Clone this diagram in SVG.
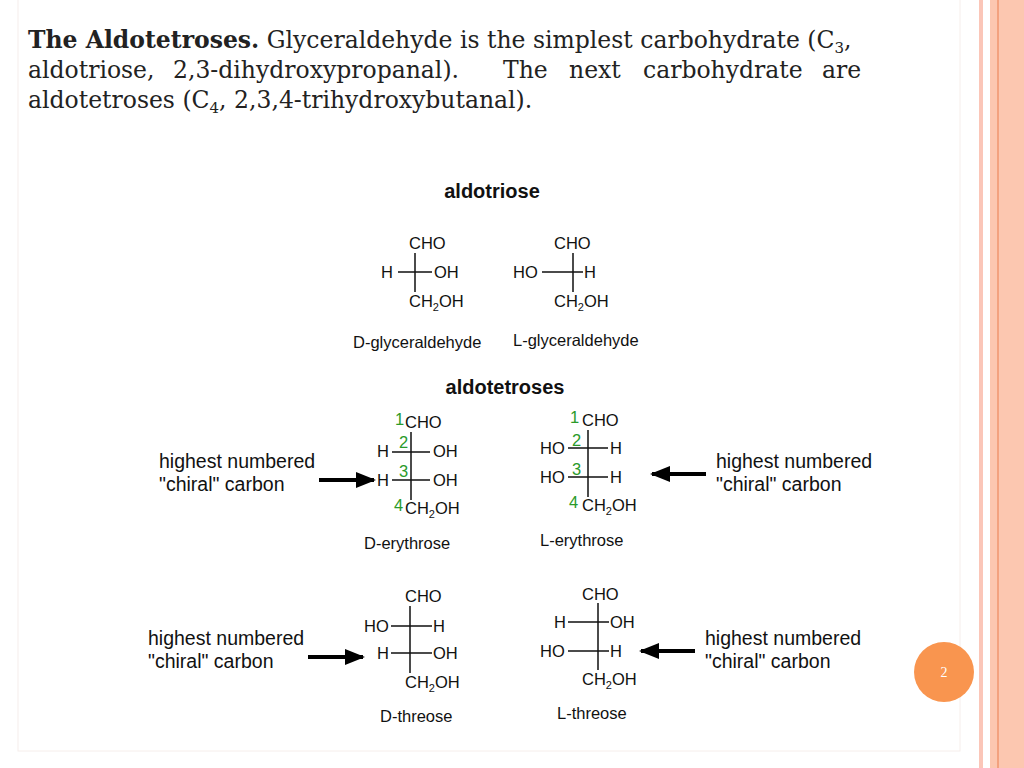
<svg xmlns="http://www.w3.org/2000/svg" width="1024" height="768" viewBox="0 0 1024 768">
<style>
.t{font-family:"DejaVu Serif",serif;font-size:23.5px;fill:#222}
.s{font-family:"Liberation Sans",Arial,sans-serif;font-size:16.5px;fill:#111}
.h{font-family:"Liberation Sans",Arial,sans-serif;font-size:20px;font-weight:bold;fill:#111}
.l{font-family:"Liberation Sans",Arial,sans-serif;font-size:19.5px;fill:#111}
.n{font-family:"Liberation Sans",Arial,sans-serif;font-size:16.5px;fill:#2a9a2a}
.b{stroke:#111;stroke-width:1.5;fill:none}
.a{stroke:#000;stroke-width:4}
</style>
<defs><marker id="ar" viewBox="0 0 10 10" refX="9" refY="5" markerWidth="5" markerHeight="5" orient="auto"><path d="M0,1L10,5L0,9z" fill="#000"/></marker></defs>
<rect width="1024" height="768" fill="#fff"/>
<rect x="18" y="-2" width="942" height="753" fill="none" stroke="#f6eeeb" stroke-width="1"/>
<rect x="979" y="0" width="4" height="768" fill="#fbc6b8"/>
<rect x="990" y="0" width="34" height="768" fill="#fcc7b0"/>
<rect x="997" y="0" width="2" height="768" fill="#f3a27f"/>
<circle cx="944" cy="672" r="30" fill="#f9954f"/>
<text x="944" y="677" text-anchor="middle" font-family="Liberation Serif,serif" font-size="14" fill="#fff">2</text>
<g id="intro">
<text class="t" x="28" y="48"><tspan font-weight="bold">The Aldotetroses.</tspan> Glyceraldehyde is the simplest carbohydrate (C<tspan font-size="15" dy="5">3</tspan><tspan dy="-5">,</tspan></text>
<text class="t" y="78"><tspan x="28">aldotriose,</tspan><tspan x="173">2,3-dihydroxypropanal).</tspan><tspan x="503">The</tspan><tspan x="569">next</tspan><tspan x="643">carbohydrate</tspan><tspan x="822">are</tspan></text>
<text class="t" x="28" y="108">aldotetroses (C<tspan font-size="15" dy="5">4</tspan><tspan dy="-5">, 2,3,4-trihydroxybutanal).</tspan></text>
</g>
<text class="h" x="492" y="198" text-anchor="middle">aldotriose</text>
<text class="h" x="505" y="394" text-anchor="middle">aldotetroses</text>
<g id="connectors">
<path class="b" d="M415,253V292M398,272H432"/>
<path class="b" d="M573,253V292M542,272H583"/>
<path class="b" d="M411,432V500M392,452H430M392,480H430"/>
<path class="b" d="M588,430V497M568,448H608M568,477H608"/>
<path class="b" d="M410,606V673M391,626H432M391,653H432"/>
<path class="b" d="M598,603V670M568,622H609M568,651H609"/>
<line class="a" x1="319" y1="480" x2="374" y2="480" marker-end="url(#ar)"/>
<line class="a" x1="706" y1="474" x2="652" y2="474" marker-end="url(#ar)"/>
<line class="a" x1="308" y1="657" x2="363" y2="657" marker-end="url(#ar)"/>
<line class="a" x1="695" y1="651" x2="641" y2="651" marker-end="url(#ar)"/>
</g>
<g id="D-glyceraldehyde">
<text class="s" x="409" y="249">CHO</text><text class="s" x="381" y="278">H</text><text class="s" x="434" y="278">OH</text>
<text class="s" x="409" y="307">CH<tspan font-size="11" dy="4">2</tspan><tspan dy="-4">OH</tspan></text>
<text class="s" x="353" y="348">D-glyceraldehyde</text>
</g>
<g id="L-glyceraldehyde">
<text class="s" x="554" y="249">CHO</text><text class="s" x="513" y="278">HO</text><text class="s" x="584" y="278">H</text>
<text class="s" x="554" y="307">CH<tspan font-size="11" dy="4">2</tspan><tspan dy="-4">OH</tspan></text>
<text class="s" x="513" y="346">L-glyceraldehyde</text>
</g>
<g id="D-erythrose">
<text class="n" x="395" y="425">1</text><text class="s" x="405" y="428">CHO</text>
<text class="s" x="377" y="457">H</text><text class="n" x="399" y="448">2</text><text class="s" x="433" y="457">OH</text>
<text class="s" x="377" y="486">H</text><text class="n" x="399" y="477">3</text><text class="s" x="433" y="486">OH</text>
<text class="n" x="394" y="511">4</text><text class="s" x="405" y="514">CH<tspan font-size="11" dy="4">2</tspan><tspan dy="-4">OH</tspan></text>
<text class="s" x="364" y="549">D-erythrose</text>
</g>
<g id="L-erythrose">
<text class="n" x="570" y="423">1</text><text class="s" x="582" y="426">CHO</text>
<text class="s" x="540" y="454">HO</text><text class="n" x="572" y="446">2</text><text class="s" x="610" y="454">H</text>
<text class="s" x="540" y="483">HO</text><text class="n" x="572" y="475">3</text><text class="s" x="610" y="483">H</text>
<text class="n" x="569" y="508">4</text><text class="s" x="582" y="511">CH<tspan font-size="11" dy="4">2</tspan><tspan dy="-4">OH</tspan></text>
<text class="s" x="540" y="546">L-erythrose</text>
</g>
<g id="D-threose">
<text class="s" x="405" y="602">CHO</text><text class="s" x="364" y="632">HO</text><text class="s" x="433" y="632">H</text>
<text class="s" x="377" y="659">H</text><text class="s" x="433" y="659">OH</text>
<text class="s" x="405" y="688">CH<tspan font-size="11" dy="4">2</tspan><tspan dy="-4">OH</tspan></text>
<text class="s" x="380" y="722">D-threose</text>
</g>
<g id="L-threose">
<text class="s" x="582" y="600">CHO</text><text class="s" x="554" y="628">H</text><text class="s" x="610" y="628">OH</text>
<text class="s" x="540" y="657">HO</text><text class="s" x="610" y="657">H</text>
<text class="s" x="582" y="685">CH<tspan font-size="11" dy="4">2</tspan><tspan dy="-4">OH</tspan></text>
<text class="s" x="557" y="719">L-threose</text>
</g>
<g id="labels">
<text class="l" x="159" y="468">highest numbered</text><text class="l" x="159" y="491">"chiral" carbon</text>
<text class="l" x="716" y="468">highest numbered</text><text class="l" x="716" y="491">"chiral" carbon</text>
<text class="l" x="148" y="645">highest numbered</text><text class="l" x="148" y="668">"chiral" carbon</text>
<text class="l" x="705" y="645">highest numbered</text><text class="l" x="705" y="668">"chiral" carbon</text>
</g>
</svg>
